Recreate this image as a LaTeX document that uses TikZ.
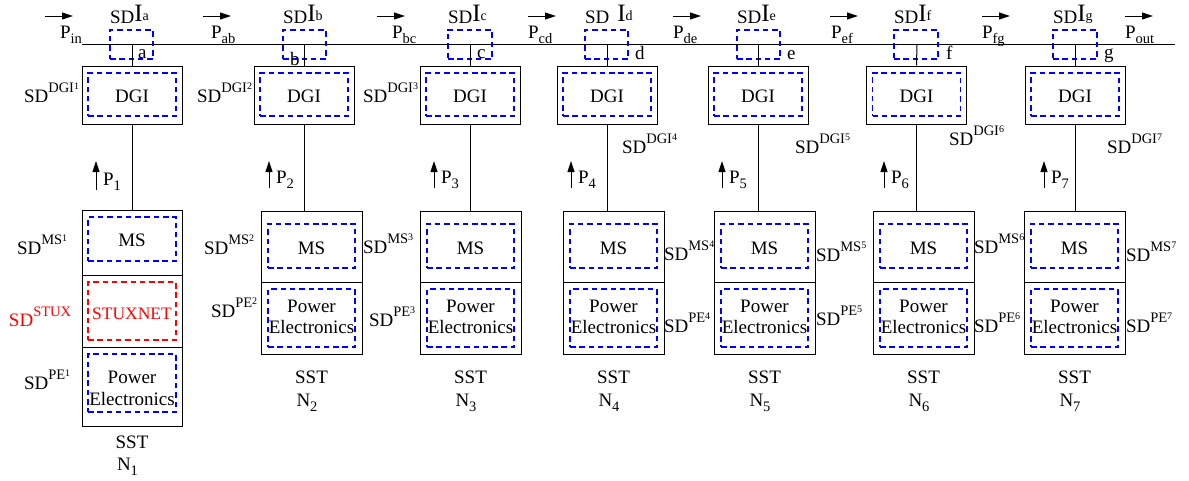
\documentclass[tikz,border=0pt]{standalone}
\usepackage{fontspec}
\setmainfont{Liberation Serif}
\newfontfamily\tmsfont{Liberation Serif}
\usetikzlibrary{arrows.meta,fit}
\definecolor{sdblue}{RGB}{0,0,255}
\definecolor{sdred}{RGB}{255,0,0}
\newcommand{\sdlab}[2]{SD\raisebox{9.5pt}{\fontsize{14.5}{15}\selectfont #1\raisebox{3.5pt}{\fontsize{10}{10}\selectfont #2}}}
\newcommand{\sdsingle}[1]{SD\raisebox{9.5pt}{\fontsize{14.5}{15}\selectfont #1}}
\newcommand{\lowsub}[1]{\raisebox{-5.5pt}{\fontsize{14.5}{15}\selectfont #1}}
\newcommand{\sdI}[2]{SD\hspace{#1pt}\raisebox{1.5pt}{\fontsize{25}{25}\selectfont I}\raisebox{2.5pt}{\fontsize{14}{14}\selectfont #2}}
\begin{document}
\begin{tikzpicture}[x=1pt,y=-1pt,
  txt/.style={inner sep=0pt, outer sep=0pt, font=\tmsfont\fontsize{19}{21}\selectfont},
  boxn/.style={draw=black, line width=1pt, inner sep=0pt},
  dbox/.style={draw=sdblue, line width=1.05pt, dash pattern=on 5.5pt off 3.8pt, inner sep=0pt},
  rbox/.style={draw=sdred, line width=1.05pt, dash pattern=on 5.5pt off 3.8pt, inner sep=0pt},
  arr/.style={line width=1pt, -{Triangle[length=11pt,width=7pt]}},
  wire/.style={line width=1pt}]
\path[use as bounding box, fill=white] (0,0) rectangle (1189,480);

% main bus
\coordinate (Lstart) at (82,44);
\coordinate (Lend) at (1175,44);
\draw[wire] (Lstart) -- (Lend);

% top power flow arrows
\foreach \ax/\tx/\s in {45/60/in, 203/211/ab, 377/392/bc, 528/528/cd, 673/673/de, 830/831/ef, 982/982/fg, 1125/1125/out}{
  \draw[arr] (\ax,16) -- ++(28,0);
  \node[txt, anchor=base west] at (\tx,38) {P\lowsub{\s}};
}

% junctions
\foreach \n/\jx/\dl/\dr/\lx/\ly/\gap in {a/132/110/153/138/58/0, b/304/283/326/290/65/0, c/470/448/492/477/58/0, d/607/585/628/635/59/8, e/758/737/780/787/59/0, f/917/894/938/946/59/0, g/1075/1053/1097/1104/58/0}{
  \coordinate (J\n) at (\jx,44);
  \node[dbox, fit={(\dl,30) (\dr,59)}] (JB\n) {};
  \node[txt, anchor=base west] (JL\n) at (\lx,\ly) {\n};
  \node[txt, anchor=base west] (SDI\n) at (\dl,23) {\sdI{\gap}{\n}};
}

% DGI boxes
\foreach \i/\jn/\jx/\sx/\sy in {1/a/132/24/102, 2/b/304/197/102, 3/c/470/363/102, 4/d/607/622/153, 5/e/758/795/153, 6/f/916.5/949/145, 7/g/1075/1107/153}{
  \node[boxn, minimum width=100pt, minimum height=58pt] (DGI\i) at (\jx,95) {};
  \node[dbox, minimum width=88pt, minimum height=43pt] (DGId\i) at (\jx,94.5) {};
  \node[txt, anchor=base] at (\jx,102) {DGI};
  \draw[wire] (J\jn) -- (DGI\i.north);
  \node[txt, anchor=base west] (SDDGI\i) at (\sx,\sy) {\sdlab{DGI}{\i}};
}

% SST 1
\node[boxn, minimum width=100pt, minimum height=216pt] (SST1) at (132,318) {};
\draw[wire] (82,275) -- (182,275);
\draw[wire] (82,347) -- (182,347);
\node[dbox, minimum width=88pt, minimum height=44pt] (MS1) at (132,239) {};
\node[rbox, minimum width=88pt, minimum height=58pt] (STUX1) at (132,311) {};
\node[dbox, minimum width=88pt, minimum height=58pt] (PE1) at (132,383) {};
\node[txt, anchor=base] at (132,246) {MS};
\node[txt, anchor=base, text=sdred, font=\tmsfont\fontsize{17.5}{19}\selectfont] at (132,319) {STUXNET};
\node[txt, anchor=base] at (132,383) {Power};
\node[txt, anchor=base] at (132,405) {Electronics};
\node[txt, anchor=base] at (132,448) {SST};
\node[txt, anchor=base west] at (117,470) {N\lowsub{1}};
\draw[wire] (DGI1.south) -- (SST1.north);
\draw[arr] (96,190) -- (96,161);
\node[txt, anchor=base west] at (103,185) {P\lowsub{1}};
\node[txt, anchor=base west] at (17,254) {\sdlab{MS}{1}};
\node[txt, anchor=base west, text=sdred] at (9,326) {\sdsingle{STUX}};
\node[txt, anchor=base west] at (24,389) {\sdlab{PE}{1}};

% SST 2-7
\foreach \i/\sl/\msx/\msy/\pex/\pey/\px in {2/261/204/254/211/317/269, 3/420/363/253/369/326/434, 4/563/664/260/664/332/571, 5/714/816/261/816/325/722, 6/873/974/253/974/332/884, 7/1024/1126/261/1126/332/1044}{
  \pgfmathsetmacro{\cx}{\sl+50.5}
  \node[boxn, minimum width=101pt, minimum height=143pt] (SST\i) at (\cx,282.5) {};
  \draw[wire] (\sl,282) -- ++(101,0);
  \node[dbox, minimum width=87pt, minimum height=44pt] (MS\i) at (\cx,246) {};
  \node[dbox, minimum width=87pt, minimum height=58pt] (PE\i) at (\cx,318) {};
  \node[txt, anchor=base] at (\cx,254) {MS};
  \node[txt, anchor=base] at (\cx,312) {Power};
  \node[txt, anchor=base] at (\cx,333) {Electronics};
  \node[txt, anchor=base] at (\cx,383) {SST};
  \node[txt, anchor=base west] at (\cx-15,406) {N\lowsub{\i}};
  \draw[wire] (DGI\i.south) -- (DGI\i.south |- SST\i.north);
  \draw[arr] (\px,188) -- (\px,161);
  \node[txt, anchor=base west] at (\px+7,183) {P\lowsub{\i}};
  \node[txt, anchor=base west] at (\msx,\msy) {\sdlab{MS}{\i}};
  \node[txt, anchor=base west] at (\pex,\pey) {\sdlab{PE}{\i}};
}
\end{tikzpicture}
\end{document}
